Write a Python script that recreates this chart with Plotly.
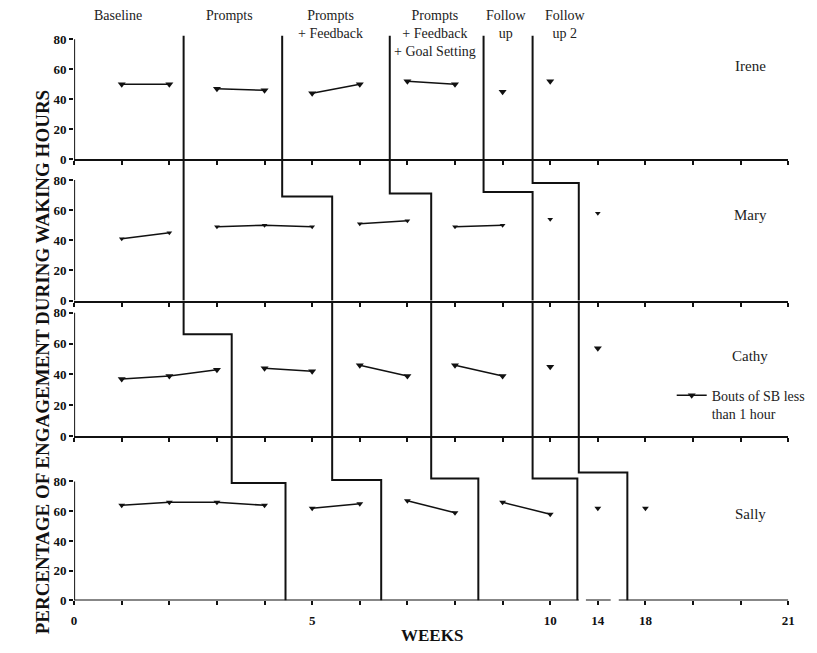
import plotly.graph_objects as go

# ---------------- data ----------------
participants = ["Irene", "Mary", "Cathy", "Sally"]
phase_names = ["Baseline", "Prompts", "Prompts<br>+ Feedback",
               "Prompts<br>+ Feedback<br>+ Goal Setting", "Follow<br>up", "Follow<br>up 2"]

week_positions = list(range(16))
week_labels = ["0", "", "", "", "", "5", "", "", "", "", "10", "14", "18", "", "", "21"]
y_ticks = [0, 20, 40, 60, 80]

# session positions and % engagement, grouped by phase
irene_x = [[1, 2], [3, 4], [5, 6], [7, 8], [9], [10]]
irene_y = [[50, 50], [47, 46], [44, 50], [52, 50], [45], [52]]
mary_x = [[1, 2], [3, 4, 5], [6, 7], [8, 9], [10], [11]]
mary_y = [[41, 45], [49, 50, 49], [51, 53], [49, 50], [54], [58]]
cathy_x = [[1, 2, 3], [4, 5], [6, 7], [8, 9], [10], [11]]
cathy_y = [[37, 39, 43], [44, 42], [46, 39], [46, 39], [45], [57]]
sally_x = [[1, 2, 3, 4], [5, 6], [7, 8], [9, 10], [11], [12]]
sally_y = [[64, 66, 66, 64], [62, 65], [67, 59], [66, 58], [62], [62]]

# phase-change lines: position in each participant's panel (Irene..Sally)
change_x = [
    [2.30, 2.30, 3.31, 4.44],
    [4.37, 5.42, 5.42, 6.45],
    [6.63, 7.50, 7.50, 8.49],
    [8.60, 9.63, 9.63, 10.57],
    [9.63, 10.60, 10.60, 11.62],
]
# height at which a line steps across to the next participant's start
change_step = [
    [None, None, 66, 79],
    [None, 69, None, 81],
    [None, 71, None, 82],
    [None, 72, None, 82],
    [None, 78, None, 86],
]

# broken week axis on the bottom panel
axis_segments = [(0, 10.6), (10.75, 11.27), (11.44, 15)]

series_x = [irene_x, mary_x, cathy_x, sally_x]
series_y = [irene_y, mary_y, cathy_y, sally_y]

# ---------------- layout helpers ----------------
W, H = 817, 653
X_LEFT, X_RIGHT = 72, 795
# (top px, bottom px) of each panel and its upper y limit
panel_px = [(33, 159), (159, 302.7), (302.7, 440.7), (440.7, 607.7)]
panel_top = [82.6, 93.7, 87.8, 110.4]
marker_sizes = [7, 5, 7, 6]

SERIF = "Liberation Serif"
INK = "#111111"


def joined(groups):
    out = []
    for i, g in enumerate(groups):
        if i:
            out.append(None)
        out.extend(g)
    return out


fig = go.Figure()

for p in range(4):
    xa = "x" if p == 0 else f"x{p + 1}"
    ya = "y" if p == 0 else f"y{p + 1}"

    # phase-change lines in this panel
    for cx, cs in zip(change_x, change_step):
        if p == 0 or cx[p] == cx[p - 1]:
            xs = [cx[p], cx[p]]
            ys = [panel_top[p], 0]
        else:
            xs = [cx[p - 1], cx[p - 1], cx[p], cx[p]]
            ys = [panel_top[p], cs[p], cs[p], 0]
        fig.add_trace(go.Scatter(
            x=xs, y=ys, mode="lines", xaxis=xa, yaxis=ya,
            line=dict(color=INK, width=2), hoverinfo="skip", showlegend=False,
        ))

    # engagement series
    fig.add_trace(go.Scatter(
        x=joined(series_x[p]), y=joined(series_y[p]),
        mode="lines+markers", xaxis=xa, yaxis=ya,
        name="Bouts of SB less<br>than 1 hour",
        line=dict(color=INK, width=1.5),
        marker=dict(symbol="triangle-down", size=marker_sizes[p], color=INK),
        showlegend=(p == 2), connectgaps=False,
    ))

layout = dict(
    width=W, height=H,
    margin=dict(l=0, r=0, t=0, b=0),
    paper_bgcolor="white", plot_bgcolor="white",
    showlegend=True,
    legend=dict(
        x=677 / W, y=1 - 383 / H, xanchor="left", yanchor="top",
        font=dict(family=SERIF, size=14, color="#222222"),
        bgcolor="rgba(0,0,0,0)", valign="top", itemwidth=30,
    ),
)

shapes = []
annotations = []
for p in range(4):
    top, bot = panel_px[p]
    key = "" if p == 0 else str(p + 1)
    last = p == 3
    layout["xaxis" + key] = dict(
        domain=[X_LEFT / W, X_RIGHT / W], range=[0, 15],
        anchor="y" + key, showgrid=False, zeroline=False,
        showline=not last, linecolor=INK, linewidth=2,
        tickmode="array", tickvals=week_positions,
        ticktext=week_labels if last else [""] * len(week_positions),
        showticklabels=last, ticklabelstandoff=4,
        ticks="outside", ticklen=4, tickwidth=1.5, tickcolor=INK,
        tickfont=dict(family=SERIF, size=13, color=INK, weight="bold"),
    )
    layout["yaxis" + key] = dict(
        domain=[1 - bot / H, 1 - top / H], range=[0, panel_top[p]],
        anchor="x" + key, showgrid=False, zeroline=False, showline=False,
        tickmode="array", tickvals=y_ticks,
        ticks="outside", ticklen=4, tickwidth=1.5, tickcolor=INK,
        tickfont=dict(family=SERIF, size=13, color=INK, weight="bold"),
    )
    # y axis line only spans the 0-80 scale
    shapes.append(dict(type="line", xref="x" + key, yref="y" + key,
                       x0=0, x1=0, y0=0, y1=80, line=dict(color=INK, width=2)))
    # participant name
    annotations.append(dict(
        text=participants[p], xref="x" + key, yref="y" + key,
        x=14.2, y=[62, 57, 52, 58][p], showarrow=False,
        font=dict(family=SERIF, size=15, color="#222222"),
    ))

for a, b in axis_segments:
    shapes.append(dict(type="line", xref="x4", yref="y4", x0=a, x1=b, y0=0, y1=0,
                       line=dict(color=INK, width=2)))

# phase headings above the top panel
heading_x = [0.93, 3.26, 5.39, 7.59, 9.09, 10.33]
for name, hx in zip(phase_names, heading_x):
    annotations.append(dict(
        text=name, xref="x", yref="paper", x=hx, y=1 - 3 / H,
        xanchor="center", yanchor="top", showarrow=False, align="center",
        font=dict(family=SERIF, size=14, color="#222222"),
    ))

annotations.append(dict(
    text="PERCENTAGE OF ENGAGEMENT DURING WAKING HOURS", textangle=-90,
    xref="paper", yref="paper", x=40 / W, y=1 - 365 / H,
    xanchor="center", yanchor="middle",
    showarrow=False, font=dict(family=SERIF, size=19, color=INK, weight="bold"),
))
annotations.append(dict(
    text="WEEKS", xref="paper", yref="paper", x=434 / W, y=1 - 643 / H,
    xanchor="center", yanchor="middle",
    showarrow=False, font=dict(family=SERIF, size=17, color=INK, weight="bold"),
))

layout["shapes"] = shapes
layout["annotations"] = annotations
fig.update_layout(**layout)

fig.write_html("out.html")
